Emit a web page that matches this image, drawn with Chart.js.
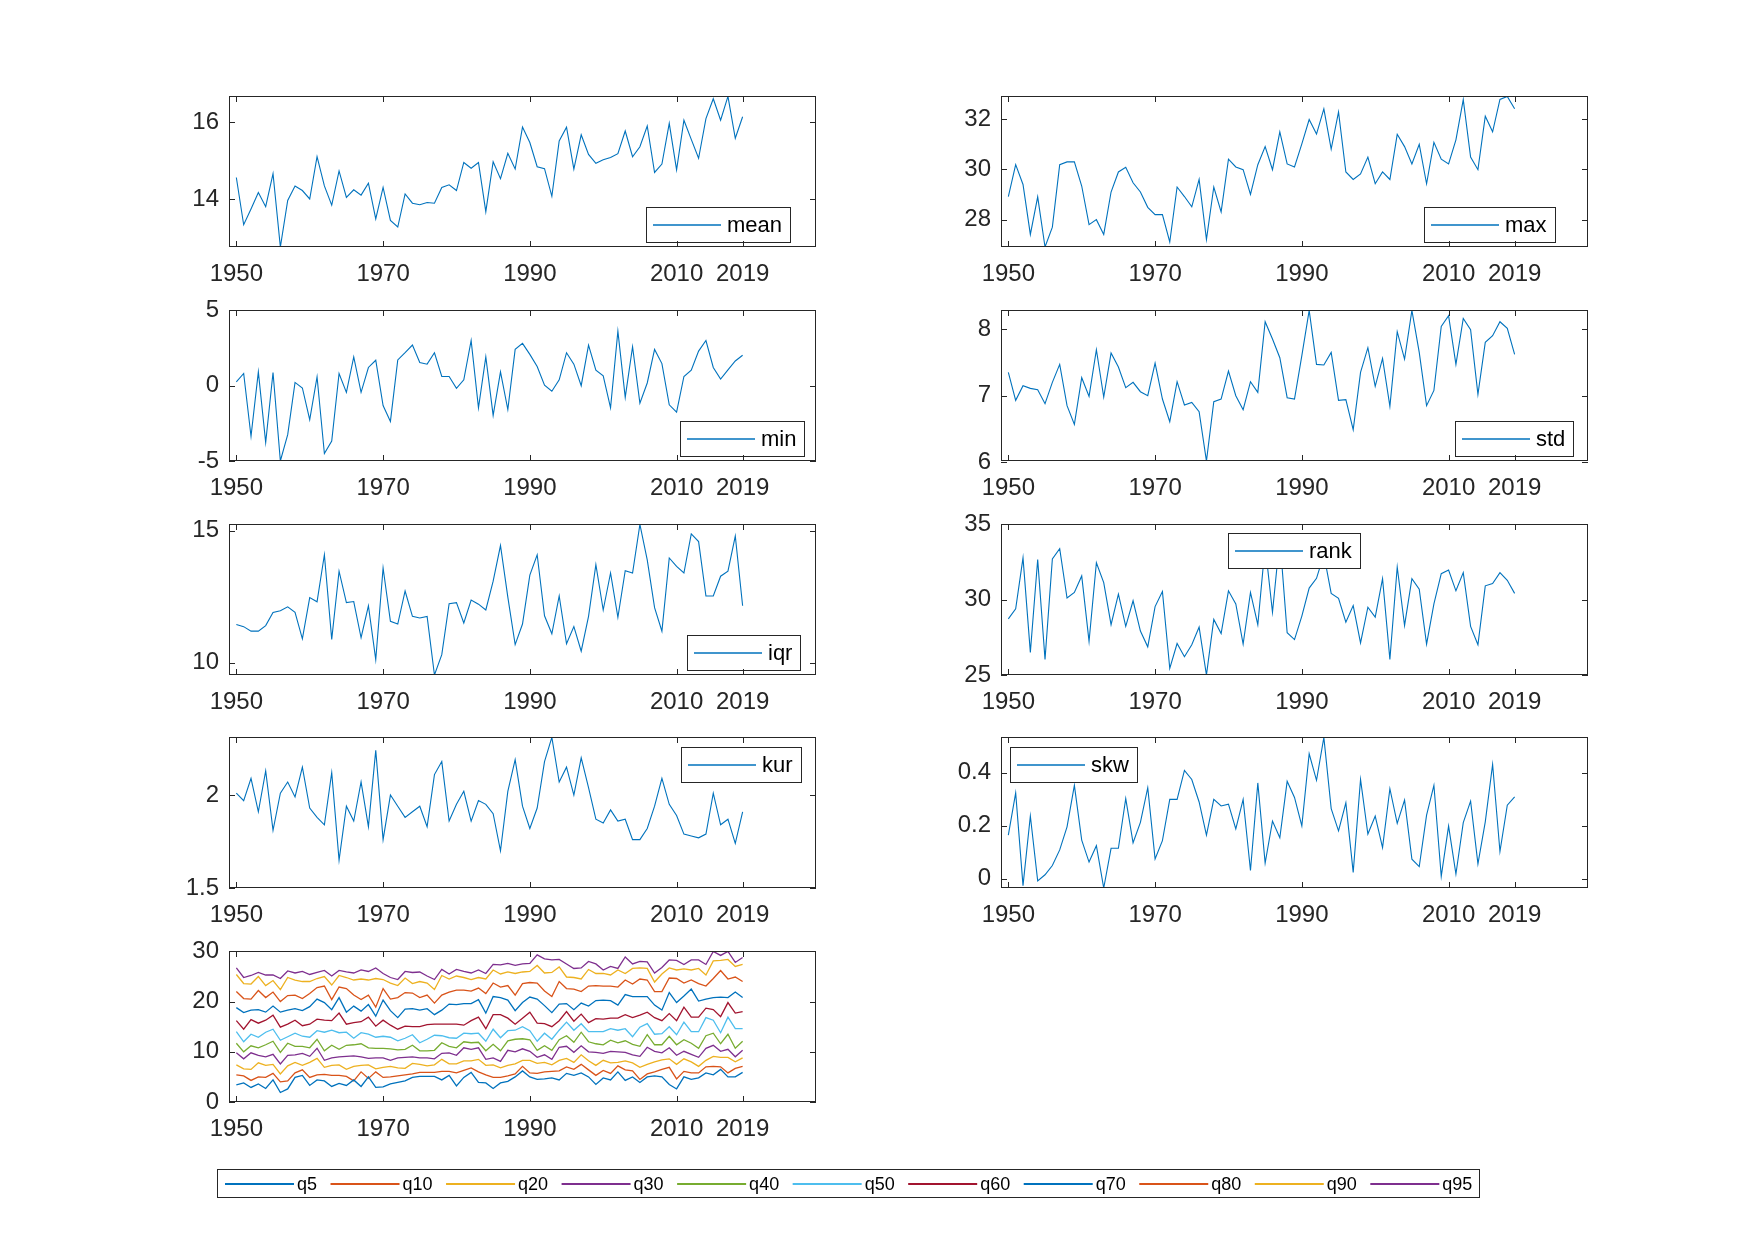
<!DOCTYPE html>
<html><head><meta charset="utf-8">
<script src="https://cdn.jsdelivr.net/npm/chart.js@4.4.1/dist/chart.umd.min.js"></script>
<style>
html,body{margin:0;padding:0;background:#fff;}
#fig{position:relative;width:1754px;height:1240px;overflow:hidden;background:#fff;font-family:"Liberation Sans",Arial,sans-serif;}
#fig canvas{position:absolute;}
</style></head>
<body><div id="fig"></div>
<script>
const years = [1950,1951,1952,1953,1954,1955,1956,1957,1958,1959,
1960,1961,1962,1963,1964,1965,1966,1967,1968,1969,
1970,1971,1972,1973,1974,1975,1976,1977,1978,1979,
1980,1981,1982,1983,1984,1985,1986,1987,1988,1989,
1990,1991,1992,1993,1994,1995,1996,1997,1998,1999,
2000,2001,2002,2003,2004,2005,2006,2007,2008,2009,
2010,2011,2012,2013,2014,2015,2016,2017,2018,2019];
const xTicks = [1950,1970,1990,2010,2019];

const meanVals = [14.56,13.33,13.74,14.17,13.80,14.66,12.75,13.96,14.34,14.22,
14.00,15.10,14.34,13.84,14.73,14.04,14.24,14.10,14.41,13.48,
14.30,13.44,13.27,14.13,13.89,13.85,13.91,13.89,14.30,14.37,
14.22,14.95,14.80,14.95,13.67,14.97,14.53,15.19,14.78,15.87,
15.47,14.84,14.79,14.07,15.51,15.87,14.78,15.67,15.16,14.93,
15.02,15.08,15.18,15.77,15.10,15.36,15.90,14.69,14.91,15.97,
14.76,16.05,15.55,15.06,16.09,16.61,16.05,16.67,15.58,16.14];
const maxVals = [28.92,30.19,29.40,27.41,28.91,26.91,27.70,30.19,30.30,30.30,
29.34,27.80,28.00,27.41,29.10,29.90,30.09,29.47,29.10,28.49,
28.20,28.20,27.11,29.30,28.92,28.51,29.60,27.21,29.30,28.31,
30.41,30.10,29.99,29.01,30.19,30.91,29.99,31.50,30.22,30.10,
31.02,31.99,31.41,32.41,30.81,32.29,29.90,29.60,29.82,30.49,
29.43,29.90,29.60,31.40,30.91,30.22,31.00,29.43,31.08,30.41,
30.22,31.18,32.78,30.49,29.99,32.12,31.50,32.79,32.91,32.42];
const minVals = [0.26,0.81,-3.36,0.92,-3.77,0.88,-5.00,-3.25,0.22,-0.15,
-2.26,0.59,-4.50,-3.68,0.81,-0.44,1.91,-0.44,1.21,1.69,
-1.32,-2.37,1.71,2.19,2.70,1.54,1.43,2.19,0.61,0.61,
-0.18,0.39,3.00,-1.47,1.91,-1.97,0.92,-1.58,2.41,2.81,
2.08,1.27,0.04,-0.37,0.39,2.19,1.43,0.00,2.70,1.03,
0.66,-1.47,3.62,-0.77,2.59,-1.16,0.18,2.41,1.47,-1.27,
-1.75,0.61,1.03,2.30,3.00,1.21,0.44,1.05,1.64,2.02];
const stdVals = [7.35,6.93,7.15,7.11,7.09,6.88,7.20,7.47,6.85,6.57,
7.27,6.99,7.69,6.98,7.64,7.43,7.12,7.20,7.06,7.00,
7.49,6.95,6.61,7.21,6.86,6.90,6.76,6.02,6.91,6.95,
7.37,7.00,6.79,7.21,7.05,8.11,7.85,7.57,6.97,6.95,
7.60,8.28,7.47,7.46,7.65,6.93,6.94,6.49,7.35,7.72,
7.14,7.56,6.84,7.96,7.55,8.28,7.65,6.85,7.08,8.04,
8.20,7.47,8.16,7.99,7.02,7.80,7.90,8.11,8.01,7.62];
const iqrVals = [11.45,11.37,11.20,11.20,11.41,11.91,11.97,12.12,11.91,10.91,
12.47,12.31,14.09,10.89,13.47,12.28,12.32,10.95,12.16,10.12,
13.59,11.57,11.47,12.72,11.76,11.70,11.76,9.54,10.31,12.24,
12.28,11.51,12.38,12.22,12.00,13.09,14.44,12.49,10.69,11.47,
13.32,14.09,11.78,11.10,12.53,10.72,11.37,10.44,11.76,13.72,
12.00,13.40,11.72,13.49,13.40,15.24,13.90,12.09,11.20,13.97,
13.65,13.40,14.88,14.59,12.53,12.53,13.28,13.47,14.80,12.16];
const rankVals = [28.73,29.39,32.78,26.50,32.67,26.04,32.71,33.39,30.11,30.48,
31.58,27.24,32.45,31.14,28.34,30.37,28.23,29.93,27.92,26.87,
29.54,30.55,25.44,27.09,26.21,27.01,28.18,25.00,28.69,27.75,
30.59,29.72,27.05,30.48,28.34,33.60,29.17,34.10,27.81,27.35,
28.91,30.77,31.42,33.00,30.42,30.09,28.51,29.61,27.13,29.50,
28.84,31.40,26.04,32.17,28.29,31.40,30.70,27.05,29.72,31.73,
31.97,30.59,31.80,28.23,27.01,30.92,31.07,31.80,31.29,30.42];
const kurVals = [2.01,1.97,2.09,1.91,2.13,1.81,2.01,2.07,1.99,2.15,
1.93,1.88,1.84,2.12,1.65,1.94,1.86,2.07,1.83,2.24,
1.76,2.00,1.94,1.88,1.91,1.94,1.83,2.11,2.18,1.86,
1.95,2.02,1.86,1.97,1.95,1.90,1.70,2.02,2.19,1.94,
1.82,1.93,2.18,2.31,2.07,2.15,2.00,2.20,2.04,1.87,
1.85,1.92,1.86,1.87,1.76,1.76,1.82,1.94,2.09,1.95,
1.89,1.79,1.78,1.77,1.79,2.01,1.84,1.87,1.74,1.91];
const skwVals = [0.165,0.324,-0.026,0.237,-0.008,0.015,0.050,0.109,0.196,0.353,
0.146,0.063,0.125,-0.035,0.115,0.115,0.303,0.136,0.213,0.344,
0.075,0.144,0.300,0.300,0.409,0.375,0.290,0.165,0.300,0.275,
0.282,0.188,0.300,0.031,0.362,0.059,0.218,0.155,0.368,0.307,
0.200,0.472,0.372,0.534,0.265,0.181,0.287,0.024,0.375,0.169,
0.237,0.118,0.340,0.209,0.297,0.074,0.046,0.240,0.353,0.009,
0.199,0.018,0.212,0.293,0.056,0.215,0.432,0.103,0.278,0.309];

const q5 = [3.4,3.8,2.9,3.6,2.7,4.4,1.9,2.6,4.9,5.3,
3.3,4.4,4.2,3.1,3.7,3.3,4.4,3.1,5.0,2.9,
3.0,3.6,3.9,4.2,4.9,5.1,5.1,5.1,4.4,5.3,
3.2,4.9,5.9,3.9,3.8,2.7,3.8,4.1,5.0,6.2,
5.0,4.5,4.6,4.8,4.4,5.7,5.3,5.8,5.0,3.5,
4.8,4.4,6.0,4.3,5.0,3.9,5.0,5.2,5.0,3.5,
2.6,5.0,4.5,4.8,5.8,5.4,6.5,5.0,5.0,5.9];
const q10 = [5.4,5.2,4.3,5.0,4.9,5.7,4.0,4.2,5.8,6.4,
4.9,5.4,5.5,5.3,5.3,5.1,4.2,6.0,4.7,6.0,
4.9,5.0,5.2,5.4,5.6,5.9,5.9,5.9,6.1,6.1,
5.8,6.3,6.8,6.0,5.4,4.9,4.9,5.2,5.6,7.1,
5.8,5.7,6.0,6.1,6.2,7.0,6.5,7.5,6.4,5.3,
6.3,5.7,7.2,6.4,6.2,4.5,5.6,6.0,6.5,6.9,
4.6,6.1,5.8,5.8,7.0,7.1,7.0,5.8,6.7,7.1];
const q20 = [7.4,6.6,6.5,7.8,7.3,7.5,5.6,7.2,7.9,7.3,
7.9,8.7,6.9,7.3,7.4,6.5,7.1,7.3,7.4,6.6,
6.9,7.1,6.8,6.7,7.7,7.5,7.2,7.4,8.5,7.6,
7.6,8.2,8.2,8.5,7.3,7.4,6.8,7.3,7.6,8.3,
8.3,7.7,7.9,7.4,8.3,8.7,7.9,9.4,8.2,7.3,
8.3,7.8,7.9,8.2,7.8,6.9,7.5,8.0,8.4,8.6,
7.5,8.6,8.0,7.1,8.3,9.1,8.9,8.9,8.0,8.8];
const q30 = [9.8,8.6,9.8,9.3,9.0,9.5,7.6,9.3,9.4,9.7,
9.1,10.7,8.3,8.8,9.0,9.1,9.2,9.0,8.7,8.8,
8.8,8.3,8.8,8.9,9.0,8.8,8.8,8.6,9.7,9.8,
9.3,10.8,10.5,10.8,8.5,8.8,8.1,10.3,10.0,10.6,
10.1,8.9,9.4,8.5,10.9,11.1,9.9,11.2,10.0,9.9,
9.7,10.1,10.0,9.9,9.4,9.1,10.9,10.1,9.8,10.8,
9.3,10.1,9.5,8.9,10.7,11.3,10.1,10.5,9.0,10.3];
const q40 = [11.7,10.0,11.2,10.8,11.4,12.1,9.9,11.7,11.1,11.1,
10.8,12.5,10.2,11.3,10.5,11.3,11.4,11.6,10.8,10.7,
10.7,10.6,10.4,10.5,11.3,10.2,10.2,10.3,11.8,11.1,
10.8,12.0,11.8,11.9,10.2,11.5,10.2,12.2,12.5,12.6,
12.4,10.3,11.2,10.3,12.4,13.2,11.9,13.9,12.0,11.6,
11.4,12.3,11.8,12.2,11.5,11.1,13.4,11.4,11.4,13.1,
11.4,12.4,11.7,10.7,13.2,13.7,11.6,13.5,10.7,12.1];
const q50 = [14.0,12.0,13.5,12.9,13.9,14.5,12.3,13.0,13.7,13.1,
12.9,14.2,13.9,14.3,13.8,13.9,12.7,13.8,13.5,12.9,
13.1,12.9,12.2,12.7,13.4,11.8,12.5,13.3,13.2,12.8,
12.7,13.7,13.6,13.7,12.1,14.5,12.8,14.2,14.3,15.0,
14.2,12.1,13.7,12.5,14.3,15.9,14.3,15.6,14.0,14.0,
14.0,14.6,14.3,14.6,13.0,14.9,15.6,13.5,13.6,15.0,
13.4,15.9,14.0,14.0,16.8,16.3,13.8,16.9,14.6,14.6];
const q60 = [16.2,14.5,16.4,15.7,16.3,17.3,14.9,15.5,16.3,15.2,
15.5,16.5,16.3,16.2,17.7,15.5,15.8,16.0,16.9,15.1,
16.3,15.3,14.5,15.1,15.0,15.0,15.4,15.5,15.5,15.5,
15.5,15.3,16.2,16.9,14.6,17.4,17.4,16.7,15.5,16.7,
17.9,15.7,15.6,15.0,16.2,18.0,16.1,17.5,15.8,16.6,
16.5,16.7,16.7,17.4,16.8,17.3,17.9,16.8,16.2,17.6,
16.2,18.9,16.9,16.9,18.7,18.4,17.0,19.8,17.7,18.0];
const q70 = [18.8,17.8,18.3,18.4,17.9,19.1,17.9,18.3,18.6,18.2,
19.0,20.5,19.8,18.4,20.8,17.9,19.1,18.1,19.4,17.1,
20.3,18.2,16.8,18.5,18.6,18.3,18.6,17.4,18.3,19.5,
19.4,19.6,19.6,20.4,17.7,21.0,20.8,20.3,18.2,19.8,
20.9,20.5,19.2,17.8,19.5,19.6,18.4,19.7,19.1,20.2,
20.3,20.2,19.3,21.4,21.0,21.0,21.0,19.3,18.3,21.8,
19.8,21.1,22.5,20.1,20.5,20.8,20.9,20.8,21.9,20.8];
const q80 = [22.0,20.6,20.5,22.2,20.8,21.9,20.0,21.2,21.3,20.6,
21.6,22.8,23.1,20.4,22.9,22.6,21.3,20.4,21.3,18.9,
22.6,20.5,20.8,21.8,21.7,20.8,21.3,19.7,21.3,21.9,
22.3,22.3,22.1,22.7,21.6,23.7,22.9,23.2,21.3,23.6,
23.8,23.7,22.1,21.0,24.0,22.6,22.5,22.0,23.1,23.2,
23.1,23.1,22.9,24.3,23.5,24.5,24.3,22.0,22.0,24.7,
24.6,23.7,24.3,23.6,23.1,24.6,26.2,24.5,24.9,24.0];
const q90 = [25.4,23.6,23.5,25.0,23.2,24.2,22.4,24.8,24.3,24.0,
24.0,24.6,25.0,23.3,25.2,24.8,24.3,24.5,24.3,24.6,
24.4,23.7,23.2,24.7,23.6,24.0,23.7,22.4,25.2,24.5,
25.1,24.8,24.4,24.8,24.5,26.3,25.5,25.9,25.6,25.9,
26.0,27.2,25.7,25.8,26.9,24.9,24.8,24.5,26.4,25.6,
25.6,25.3,26.3,25.6,26.6,26.7,26.6,23.9,25.5,26.7,
26.3,26.5,26.3,26.6,25.3,28.1,28.2,28.4,27.0,27.4];
const q95 = [26.7,24.8,25.2,25.8,25.3,25.3,24.6,26.1,25.7,26.0,
25.4,25.8,26.2,25.1,26.2,25.9,25.7,26.3,26.0,26.7,
25.6,24.8,24.4,26.0,25.8,25.9,25.1,24.4,26.4,25.5,
26.4,26.0,25.7,26.3,25.6,27.4,27.3,27.6,27.2,27.5,
27.6,29.3,28.5,28.3,28.4,27.5,26.6,26.7,28.0,27.5,
26.3,27.0,26.6,28.9,27.5,28.0,27.9,25.7,26.8,28.3,
28.2,27.4,28.3,28.3,27.4,30.0,29.2,30.0,27.8,28.8];

const qNames = ['q5','q10','q20','q30','q40','q50','q60','q70','q80','q90','q95'];
const qSeries = [q5,q10,q20,q30,q40,q50,q60,q70,q80,q90,q95];
const qColors = ['#0072BD','#D95319','#EDB120','#7E2F8E','#77AC30','#4DBEEE','#A2142F','#0072BD','#D95319','#EDB120','#7E2F8E'];

const meanTicks = [14,16], maxTicks = [28,30,32], minTicks = [-5,0,5], stdTicks = [6,7,8];
const iqrTicks = [10,15], rankTicks = [25,30,35], kurTicks = [1.5,2], skwTicks = [0,0.2,0.4], qTicks = [0,10,20,30];
const meanLim = [12.75,16.67], maxLim = [26.91,32.91], minLim = [-5,5], stdLim = [6.02,8.28];
const iqrLim = [9.54,15.24], rankLim = [25,35], kurLim = [1.5,2.31], skwLim = [-0.035,0.534], qLim = [0,30];

const AX = '#262626';
const FONT = '"Liberation Sans", Arial, Helvetica, sans-serif';
const colL = [229, 1001];
const rowT = [92, 306, 520, 733, 947];
const W = 587, H = 155;

const framePlugin = {
  id: 'frame',
  afterDraw(chart, args, opts) {
    const ctx = chart.ctx, ca = chart.chartArea;
    const xs = chart.scales.x, ys = chart.scales.y;
    const L = Math.round(ca.left), T = Math.round(ca.top), R = Math.round(ca.right), B = Math.round(ca.bottom);
    ctx.save();
    if (opts.text) {
      ctx.font = '22px ' + FONT;
      const tw = ctx.measureText(opts.text).width;
      const w = Math.round(7 + 68 + 6 + tw + 8), h = 35;
      const lx = Math.round(L + opts.dx), ly = Math.round(T + opts.dy);
      ctx.fillStyle = '#fff';
      ctx.fillRect(lx, ly, w, h);
      ctx.strokeStyle = AX; ctx.lineWidth = 1;
      ctx.strokeRect(lx + 0.5, ly + 0.5, w, h);
      ctx.strokeStyle = '#0072BD'; ctx.lineWidth = 1.3;
      ctx.beginPath(); ctx.moveTo(lx + 7, ly + h / 2 + 0.5); ctx.lineTo(lx + 75, ly + h / 2 + 0.5); ctx.stroke();
      ctx.fillStyle = '#000'; ctx.textBaseline = 'middle'; ctx.textAlign = 'left';
      ctx.fillText(opts.text, lx + 81, ly + h / 2 + 1);
    }
    ctx.strokeStyle = AX; ctx.lineWidth = 1;
    ctx.strokeRect(L + 0.5, T + 0.5, R - L - 1, B - T - 1);
    const tl = 6;
    ctx.beginPath();
    xs.ticks.forEach(t => {
      const px = Math.round(xs.getPixelForValue(t.value)) + 0.5;
      ctx.moveTo(px, B); ctx.lineTo(px, B - tl);
      ctx.moveTo(px, T); ctx.lineTo(px, T + tl);
    });
    ys.ticks.forEach(t => {
      const py = Math.round(ys.getPixelForValue(t.value)) + 0.5;
      ctx.moveTo(L, py); ctx.lineTo(L + tl, py);
      ctx.moveTo(R, py); ctx.lineTo(R - tl, py);
    });
    ctx.stroke();
    ctx.restore();
  }
};

function makePanel(col, row, seriesList, colors, lim, yTicks, legend, lw) {
  const fig = document.getElementById('fig');
  const cv = document.createElement('canvas');
  const cw = W + 100, ch = H + 70;
  cv.width = cw; cv.height = ch;
  cv.style.left = (colL[col] - 80) + 'px';
  cv.style.top = (rowT[row] - 20) + 'px';
  cv.style.width = cw + 'px'; cv.style.height = ch + 'px';
  fig.appendChild(cv);
  const datasets = seriesList.map((vals, k) => ({
    data: years.map((yr, i) => ({x: yr, y: vals[i]})),
    borderColor: colors[k], borderWidth: lw, pointRadius: 0, fill: false, tension: 0
  }));
  new Chart(cv, {
    type: 'line',
    data: {datasets},
    options: {
      responsive: false, animation: false, events: [],
      layout: {padding: {left: 0, top: 20, right: 20, bottom: 0}},
      plugins: {legend: {display: false}, tooltip: {enabled: false}, frame: legend || {}},
      scales: {
        x: {
          type: 'linear', min: 1949, max: 2029,
          grid: {display: false, drawTicks: false}, border: {display: false},
          afterBuildTicks: s => { s.ticks = xTicks.map(v => ({value: v})); },
          afterFit: s => { s.height = 50; },
          ticks: {autoSkip: false, maxRotation: 0, minRotation: 0, padding: 13, color: AX,
                  font: {family: FONT, size: 24}, callback: v => String(v)}
        },
        y: {
          type: 'linear', min: lim[0], max: lim[1],
          grid: {display: false, drawTicks: false}, border: {display: false},
          afterBuildTicks: s => { s.ticks = yTicks.map(v => ({value: v})); },
          afterFit: s => { s.width = 80; },
          ticks: {autoSkip: false, padding: 10, color: AX,
                  font: {family: FONT, size: 24}, callback: v => String(v)}
        }
      }
    },
    plugins: [framePlugin]
  });
}

const C = ['#0072BD'];
makePanel(0, 0, [meanVals], C, meanLim, meanTicks, {text: 'mean', dx: 417, dy: 111}, 1.1);
makePanel(1, 0, [maxVals], C, maxLim, maxTicks, {text: 'max', dx: 423, dy: 111}, 1.1);
makePanel(0, 1, [minVals], C, minLim, minTicks, {text: 'min', dx: 451, dy: 111}, 1.1);
makePanel(1, 1, [stdVals], C, stdLim, stdTicks, {text: 'std', dx: 454, dy: 111}, 1.1);
makePanel(0, 2, [iqrVals], C, iqrLim, iqrTicks, {text: 'iqr', dx: 458, dy: 111}, 1.1);
makePanel(1, 2, [rankVals], C, rankLim, rankTicks, {text: 'rank', dx: 227, dy: 9}, 1.1);
makePanel(0, 3, [kurVals], C, kurLim, kurTicks, {text: 'kur', dx: 452, dy: 10}, 1.1);
makePanel(1, 3, [skwVals], C, skwLim, skwTicks, {text: 'skw', dx: 9, dy: 10}, 1.1);
makePanel(0, 4, qSeries, qColors, qLim, qTicks, null, 1.3);

// bottom legend drawn on its own canvas
(function () {
  const fig = document.getElementById('fig');
  const cv = document.createElement('canvas');
  const cw = 1300, ch = 32;
  cv.width = cw; cv.height = ch;
  cv.style.left = '217px'; cv.style.top = '1169px';
  cv.style.width = cw + 'px'; cv.style.height = ch + 'px';
  fig.appendChild(cv);
  const ctx = cv.getContext('2d');
  ctx.font = '18px ' + FONT;
  const lineLen = 69, gapT = 3, gapI = 13.5, padL = 8, padR = 7, h = 28;
  let x = padL;
  const items = qNames.map((n, i) => {
    const tw = ctx.measureText(n).width;
    const it = {x, tw, n, c: qColors[i]};
    x += lineLen + gapT + tw + gapI;
    return it;
  });
  const total = Math.round(x - gapI + padR);
  ctx.fillStyle = '#fff'; ctx.fillRect(0, 0, total, h);
  ctx.strokeStyle = AX; ctx.lineWidth = 1;
  ctx.strokeRect(0.5, 0.5, total, h);
  const cy = 15;
  items.forEach(it => {
    ctx.strokeStyle = it.c; ctx.lineWidth = 2;
    ctx.beginPath(); ctx.moveTo(it.x, cy); ctx.lineTo(it.x + lineLen, cy); ctx.stroke();
    ctx.fillStyle = '#000'; ctx.textBaseline = 'middle'; ctx.textAlign = 'left';
    ctx.fillText(it.n, it.x + lineLen + gapT, cy + 1);
  });
})();
</script>
</body></html>
